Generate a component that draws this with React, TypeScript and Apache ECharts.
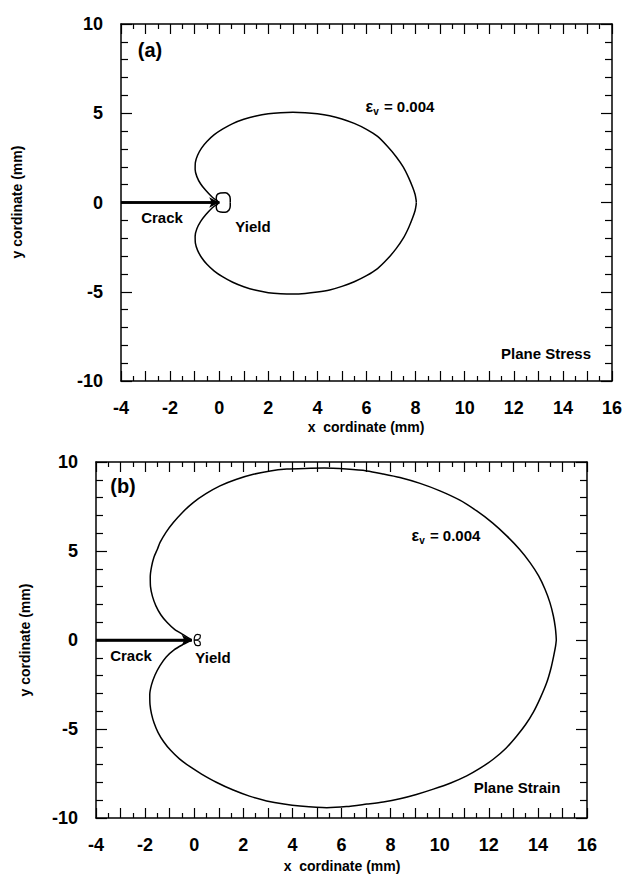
import React, { useEffect, useRef } from 'react';
import * as echarts from 'echarts';

// ---- data (mm) ----
const X_TICK_LABELS = [-4, -2, 0, 2, 4, 6, 8, 10, 12, 14, 16];
const Y_TICK_LABELS = [-10, -5, 0, 5, 10];

// (a) Plane stress, eps_v = 0.004 contour
const stressUpper = [
  [0, 0], [-0.3, 0.32], [-0.55, 0.68], [-0.76, 1.05], [-0.91, 1.45], [-0.98, 1.85],
  [-0.97, 2.25], [-0.88, 2.65], [-0.72, 3.05], [-0.5, 3.42], [-0.2, 3.8], [0.15, 4.12],
  [0.55, 4.42], [1.0, 4.66], [1.5, 4.85], [2.0, 4.97], [2.5, 5.03], [3.0, 5.05],
  [3.5, 5.03], [4.0, 4.97], [4.5, 4.86], [5.0, 4.68], [5.5, 4.43], [6.0, 4.1],
  [6.45, 3.7], [6.85, 3.15], [7.2, 2.58], [7.5, 1.98], [7.72, 1.38], [7.88, 0.85],
  [7.98, 0.45], [8.02, 0.15], [8.03, 0],
];
const stressLower = [
  [0, 0], [-0.3, -0.32], [-0.55, -0.69], [-0.76, -1.07], [-0.91, -1.47], [-0.98, -1.88],
  [-0.97, -2.28], [-0.88, -2.68], [-0.72, -3.08], [-0.5, -3.46], [-0.2, -3.84], [0.15, -4.17],
  [0.55, -4.47], [1.0, -4.72], [1.5, -4.92], [2.0, -5.05], [2.5, -5.11], [3.0, -5.13],
  [3.5, -5.1], [4.0, -5.02], [4.5, -4.9], [5.0, -4.7], [5.5, -4.44], [6.0, -4.1],
  [6.45, -3.7], [6.85, -3.17], [7.2, -2.6], [7.5, -2.0], [7.72, -1.4], [7.88, -0.86],
  [7.98, -0.45], [8.02, -0.15], [8.03, 0],
];
const stressYieldUpper = [
  [0, 0], [-0.12, 0.2], [-0.1, 0.4], [0.05, 0.53], [0.25, 0.55], [0.4, 0.42], [0.45, 0.2], [0.45, 0],
];
const stressYieldLower = [
  [0, 0], [-0.12, -0.2], [-0.1, -0.4], [0.05, -0.53], [0.25, -0.55], [0.4, -0.42], [0.45, -0.2], [0.45, 0],
];
const stressCrack = [[-4, 0], [0, 0]];

// (b) Plane strain, eps_v = 0.004 contour
const strainUpper = [
  [-0.1, 0], [-0.45, 0.3], [-0.8, 0.6], [-1.1, 0.98], [-1.36, 1.42], [-1.56, 1.92],
  [-1.7, 2.45], [-1.78, 3.0], [-1.79, 3.55], [-1.74, 4.1], [-1.64, 4.65], [-1.5, 5.1],
  [-1.39, 5.48], [-1.15, 6.05], [-0.85, 6.6], [-0.47, 7.18], [-0.04, 7.72], [0.48, 8.22],
  [1.05, 8.66], [1.7, 9.02], [2.41, 9.31], [3.1, 9.5], [3.77, 9.6], [4.5, 9.64],
  [5.3, 9.66], [6.2, 9.6], [7.03, 9.5], [7.7, 9.33], [8.38, 9.13], [9.2, 8.8],
  [10.01, 8.38], [10.8, 7.87], [11.51, 7.25], [12.15, 6.58], [12.73, 5.85], [13.25, 5.1],
  [13.68, 4.35], [14.03, 3.6], [14.29, 2.85], [14.49, 2.1], [14.63, 1.35], [14.71, 0.7],
  [14.74, 0.25], [14.75, 0],
];
const strainLower = [
  [-0.1, 0], [-0.45, -0.25], [-0.82, -0.55], [-1.14, -0.95], [-1.4, -1.45], [-1.6, -1.98],
  [-1.74, -2.52], [-1.81, -3.08], [-1.8, -3.63], [-1.74, -4.15], [-1.63, -4.68], [-1.47, -5.2],
  [-1.25, -5.7], [-0.96, -6.2], [-0.6, -6.68], [-0.17, -7.12], [0.3, -7.53], [0.9, -7.99],
  [1.59, -8.43], [2.25, -8.77], [2.95, -9.04], [3.65, -9.22], [4.31, -9.33], [5.4, -9.42],
  [6.2, -9.36], [7.03, -9.22], [7.7, -9.1], [8.38, -8.92], [9.05, -8.68], [9.74, -8.38],
  [10.45, -8.03], [11.1, -7.63], [11.65, -7.2], [12.18, -6.7], [12.7, -6.08], [13.14, -5.39],
  [13.5, -4.75], [13.81, -4.07], [14.1, -3.25], [14.36, -2.39], [14.53, -1.6], [14.65, -0.85],
  [14.72, -0.35], [14.75, 0],
];
const strainYieldUpper = [[0, 0], [0.02, 0.2], [0.12, 0.32], [0.25, 0.25], [0.22, 0.08], [0, 0]];
const strainYieldLower = [[0, 0], [0.02, -0.2], [0.12, -0.32], [0.25, -0.25], [0.22, -0.08], [0, 0]];
const strainCrack = [[-4, 0], [-0.1, 0]];

const FONT = 'Liberation Sans, Arial, Helvetica, sans-serif';
const BLACK = '#000';

function xAxis(gridIndex: number, position: 'top' | 'bottom') {
  return {
    type: 'value',
    gridIndex,
    position,
    min: -4,
    max: 16,
    interval: 1,
    axisLine: { show: true, onZero: false, lineStyle: { color: BLACK, width: 1.5 } },
    axisTick: { show: true, inside: true, length: 10, lineStyle: { color: BLACK, width: 1.2 } },
    minorTick: { show: true, splitNumber: 2, length: 5, lineStyle: { color: BLACK, width: 1.2 } },
    splitLine: { show: false },
    minorSplitLine: { show: false },
    axisLabel: {
      show: position === 'bottom',
      margin: 18,
      color: BLACK,
      fontFamily: FONT,
      fontSize: 18,
      fontWeight: 'bold',
      formatter: (v: number) => (X_TICK_LABELS.includes(v) ? String(v) : ''),
    },
  };
}

function yAxis(gridIndex: number, position: 'left' | 'right') {
  return {
    type: 'value',
    gridIndex,
    position,
    min: -10,
    max: 10,
    interval: 5,
    axisLine: { show: true, onZero: false, lineStyle: { color: BLACK, width: 1.5 } },
    axisTick: { show: true, inside: true, length: 11, lineStyle: { color: BLACK, width: 1.2 } },
    minorTick: { show: true, splitNumber: 5, length: 7, lineStyle: { color: BLACK, width: 1.2 } },
    splitLine: { show: false },
    minorSplitLine: { show: false },
    axisLabel: {
      show: position === 'left',
      margin: 18,
      color: BLACK,
      fontFamily: FONT,
      fontSize: 18,
      fontWeight: 'bold',
      formatter: (v: number) => (Y_TICK_LABELS.includes(v) ? String(v) : ''),
    },
  };
}

function curve(data: number[][], xi: number, yi: number, width = 1.5, smooth = 0.25) {
  return {
    type: 'line',
    data,
    xAxisIndex: xi,
    yAxisIndex: yi,
    showSymbol: false,
    symbol: 'none',
    smooth,
    silent: true,
    lineStyle: { color: BLACK, width },
  };
}

function crack(data: number[][], xi: number, yi: number) {
  return {
    type: 'line',
    data,
    xAxisIndex: xi,
    yAxisIndex: yi,
    showSymbol: false,
    symbol: 'none',
    silent: true,
    lineStyle: { color: BLACK, width: 2.6 },
    markLine: {
      silent: true,
      symbol: ['none', 'arrow'],
      symbolSize: [8, 10],
      label: { show: false },
      lineStyle: { color: BLACK, width: 2.6, type: 'solid' },
      data: [[{ coord: data[0] }, { coord: data[data.length - 1] }]],
    },
  };
}

function txt(text: string, x: number, y: number, size: number, extra: any = {}) {
  return {
    type: 'text',
    x,
    y,
    silent: true,
    ...extra,
    style: {
      text,
      fill: BLACK,
      font: `bold ${size}px ${FONT}`,
      align: 'center',
      verticalAlign: 'middle',
      ...(extra.style || {}),
    },
  };
}

function eps(x: number, y: number) {
  return {
    type: 'text',
    x,
    y,
    silent: true,
    style: {
      text: '{e|ε}{s|v}{n| = 0.004}',
      fill: BLACK,
      align: 'center',
      verticalAlign: 'middle',
      rich: {
        e: { fontSize: 16, fontWeight: 'bold', fontFamily: FONT, lineHeight: 20, fill: BLACK },
        s: { fontSize: 10, fontWeight: 'bold', fontFamily: FONT, lineHeight: 20, verticalAlign: 'bottom', padding: [0, 1, 0, 0], fill: BLACK },
        n: { fontSize: 15, fontWeight: 'bold', fontFamily: FONT, lineHeight: 20, fill: BLACK },
      },
    },
  };
}

export default function App() {
  const ref = useRef<HTMLDivElement>(null);
  useEffect(() => {
    if (!ref.current) return;
    const chart = echarts.init(ref.current, null, { renderer: 'svg' });
    const option: any = {
      animation: false,
      backgroundColor: '#fff',
      textStyle: { fontFamily: FONT },
      grid: [
        { left: 121, top: 24, width: 491, height: 357 },
        { left: 96, top: 462, width: 491, height: 356 },
      ],
      xAxis: [xAxis(0, 'bottom'), xAxis(0, 'top'), xAxis(1, 'bottom'), xAxis(1, 'top')],
      yAxis: [yAxis(0, 'left'), yAxis(0, 'right'), yAxis(1, 'left'), yAxis(1, 'right')],
      series: [
        curve(stressUpper, 0, 0),
        curve(stressLower, 0, 0),
        curve(stressYieldUpper, 0, 0, 1.5, 0.5),
        curve(stressYieldLower, 0, 0, 1.5, 0.5),
        crack(stressCrack, 0, 0),
        curve(strainUpper, 2, 2),
        curve(strainLower, 2, 2),
        curve(strainYieldUpper, 2, 2, 1.2, 0.5),
        curve(strainYieldLower, 2, 2, 1.2, 0.5),
        crack(strainCrack, 2, 2),
      ],
      graphic: [
        txt('(a)', 150, 50, 20),
        txt('Crack', 162, 217, 15),
        txt('Yield', 253, 226, 15),
        eps(400, 106),
        txt('Plane Stress', 546, 353, 15),
        txt('x  cordinate (mm)', 366, 427, 14),
        txt('y cordinate (mm)', 17, 202, 14, { rotation: Math.PI / 2 }),
        txt('(b)', 123, 486, 20),
        txt('Crack', 131, 655, 15),
        txt('Yield', 213, 657, 15),
        eps(446, 535),
        txt('Plane Strain', 517, 787, 15),
        txt('x  cordinate (mm)', 342, 866, 14),
        txt('y cordinate (mm)', 25, 640, 14, { rotation: Math.PI / 2 }),
      ],
    };
    chart.setOption(option);
    return () => chart.dispose();
  }, []);
  return (
    <div
      ref={ref}
      style={{ position: 'absolute', left: 0, top: 0, width: 626, height: 875 }}
    />
  );
}
